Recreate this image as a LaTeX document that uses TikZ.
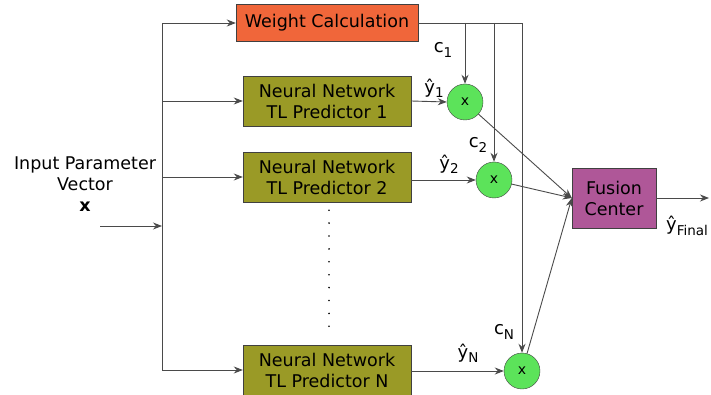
\documentclass[tikz,border=0pt]{standalone}
\usepackage{fontspec}
\setmainfont{DejaVu Sans}
\usepackage{tikz}
\usetikzlibrary{positioning,arrows.meta,calc}
\definecolor{WeightOrange}{HTML}{F0663A}
\definecolor{PredOlive}{HTML}{9A9A26}
\definecolor{MultGreen}{HTML}{5CE35A}
\definecolor{FusionPink}{HTML}{AF5798}
\definecolor{LineGray}{HTML}{4A4A4A}
\newcommand{\lowsub}[1]{\raisebox{-0.45ex}{\fontsize{13.5}{14}\selectfont #1}}

\begin{document}
\begin{tikzpicture}[x=1pt, y=-1pt,
  wbox/.style={draw=black!75, fill=WeightOrange, minimum width=182pt, minimum height=37pt, font=\fontsize{17.5}{21}\selectfont, inner sep=0pt},
  pred/.style={draw=black!75, fill=PredOlive, align=center, minimum width=168pt, minimum height=50pt, font=\fontsize{17.5}{21}\selectfont, inner sep=0pt},
  mult/.style={circle, draw=black!75, fill=MultGreen, minimum size=36pt, inner sep=0pt, font=\fontsize{14}{16}\selectfont},
  fuse/.style={draw=black!75, fill=FusionPink, align=center, minimum width=84pt, minimum height=60pt, font=\fontsize{17.5}{21}\selectfont, inner sep=0pt},
  lbl/.style={font=\fontsize{18}{20}\selectfont, inner sep=0pt},
  flow/.style={-{Stealth[length=9pt, width=7pt]}, draw=LineGray, line width=0.9pt}]
\useasboundingbox (0,0) rectangle (711,395);
% blocks
\node[wbox] (wc)  at (327,23)  {Weight Calculation};
\node[pred] (nn1) at (327,101) {Neural Network\\TL Predictor 1};
\node[pred] (nn2) at (327,177) {Neural Network\\TL Predictor 2};
\node[pred] (nnN) at (327,370) {Neural Network\\TL Predictor N};
\node[mult] (m1)  at (465,102) {x};
\node[mult] (m2)  at (494,180) {x};
\node[mult] (mN)  at (522,371) {x};
\node[fuse] (fc)  at (614,198) {Fusion\\Center};
% input
\node[align=center, font=\fontsize{17.5}{21}\selectfont] (inp) at (85,184) {Input Parameter\\Vector\\\textbf{x}};
\coordinate (in)    at (100,226);
\coordinate (split) at (162,226);
\coordinate (out)   at (709,198);
\draw[flow] (in) -- (split);
\draw[flow] (split) |- (wc.west);
\draw[flow] (split) |- (nn1.west);
\draw[flow] (split) |- (nn2.west);
\draw[flow] (split) |- (nnN.west);
% weights
\draw[flow] (wc.east) -| (mN.north);
\draw[flow] (wc.east -| m1) -- (m1.north);
\draw[flow] (wc.east -| m2) -- (m2.north);
% predictions
\draw[flow] (nn1.east) -- (m1.west);
\draw[flow] (nn2.east |- m2) -- (m2.west);
\draw[flow] (nnN.east |- mN) -- (mN.west);
\draw[flow] (m1) -- (fc.west);
\draw[flow] (m2) -- (fc.west);
\draw[flow] (mN) -- (fc.west);
\draw[flow] (fc.east) -- (out);
\draw[line width=1.8pt, line cap=round, dash pattern=on 0pt off 12.9pt] ($(nn2.south)+(2,8)$) -- ($(nnN.north)+(2,-7)$);
% labels
\node[lbl] at (443,50)  {c\lowsub{1}};
\node[lbl] at (478,145) {c\lowsub{2}};
\node[lbl] at (504,332) {c\lowsub{N}};
\node[lbl] at (434,88)  {ŷ\lowsub{1}};
\node[lbl] at (449,164) {ŷ\lowsub{2}};
\node[lbl] at (468,353) {ŷ\lowsub{N}};
\node[lbl, anchor=west] at (666,226) {ŷ\lowsub{Final}};
\end{tikzpicture}
\end{document}
